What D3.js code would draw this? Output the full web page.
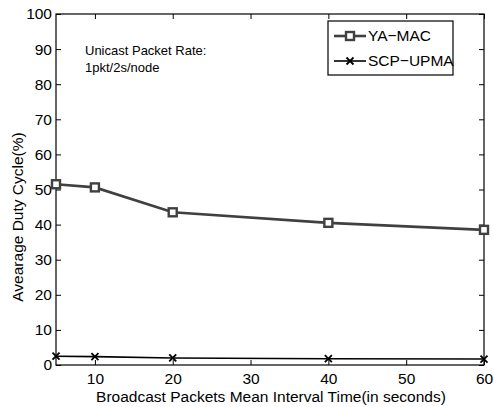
<!DOCTYPE html>
<html>
<head>
<meta charset="utf-8">
<script src="https://cdn.jsdelivr.net/npm/d3@7"></script>
<style>
  body { margin: 0; background: #fff; }
  text { font-family: "Liberation Sans", Arial, sans-serif; }
</style>
</head>
<body>
<svg width="494" height="407"></svg>
<script>
(function() {
  'use strict';

// data
var intervals = [5, 10, 20, 40, 60];
var yaMac = [51.5, 50.6, 43.5, 40.5, 38.5];
var scpUpma = [2.5, 2.4, 2.0, 1.8, 1.7];
var xTicks = [10, 20, 30, 40, 50, 60];
var yTicks = [0, 10, 20, 30, 40, 50, 60, 70, 80, 90, 100];
var seriesNames = ["YA\u2212MAC", "SCP\u2212UPMA"];

var svg = d3.select("svg");
var left = 56, right = 484, top = 14, bottom = 365;

var x = d3.scaleLinear().domain([5, 60]).range([left, right]);
var y = d3.scaleLinear().domain([0, 100]).range([bottom, top]);

// ticks inward on all four sides
svg.append("g").attr("transform", "translate(0," + bottom + ")")
   .call(d3.axisBottom(x).tickValues(xTicks).tickSizeInner(-5).tickSizeOuter(0).tickPadding(8));
svg.append("g").attr("transform", "translate(0," + top + ")")
   .call(d3.axisTop(x).tickValues(xTicks).tickSizeInner(-5).tickSizeOuter(0).tickFormat(""));
svg.append("g").attr("transform", "translate(" + left + ",0)")
   .call(d3.axisLeft(y).tickValues(yTicks).tickSizeInner(-5).tickSizeOuter(0).tickPadding(4));
svg.append("g").attr("transform", "translate(" + right + ",0)")
   .call(d3.axisRight(y).tickValues(yTicks).tickSizeInner(-5).tickSizeOuter(0).tickFormat(""));

svg.selectAll(".domain").remove();
svg.selectAll(".tick line").attr("stroke", "#000");
svg.selectAll(".tick text").attr("font-size", 15.5).attr("fill", "#000")
   .style("font-family", "Liberation Sans, Arial, sans-serif");

svg.append("rect")
   .attr("x", left).attr("y", top)
   .attr("width", right - left).attr("height", bottom - top)
   .attr("fill", "none").attr("stroke", "#000").attr("stroke-width", 1.2);

var line = d3.line()
  .x(function(d) { return x(d[0]); })
  .y(function(d) { return y(d[1]); });

var yaPts = intervals.map(function(d, i) { return [d, yaMac[i]]; });
var scpPts = intervals.map(function(d, i) { return [d, scpUpma[i]]; });

svg.append("path").attr("d", line(scpPts))
   .attr("fill", "none").attr("stroke", "#000").attr("stroke-width", 1.6);
svg.selectAll(".xmark").data(scpPts).enter().append("path")
   .attr("transform", function(d) { return "translate(" + x(d[0]) + "," + y(d[1]) + ")"; })
   .attr("d", "M-3.5,-3.5L3.5,3.5M-3.5,3.5L3.5,-3.5")
   .attr("stroke", "#000").attr("stroke-width", 1.8);

svg.append("path").attr("d", line(yaPts))
   .attr("fill", "none").attr("stroke", "#404040").attr("stroke-width", 2.6);
svg.selectAll(".sq").data(yaPts).enter().append("rect")
   .attr("x", function(d) { return x(d[0]) - 4; })
   .attr("y", function(d) { return y(d[1]) - 4; })
   .attr("width", 8).attr("height", 8)
   .attr("fill", "#fff").attr("stroke", "#404040").attr("stroke-width", 2.4);

// legend
var lg = svg.append("g").attr("transform", "translate(328,21)");
lg.append("rect").attr("width", 125).attr("height", 54)
  .attr("fill", "#fff").attr("stroke", "#000").attr("stroke-width", 1.2);
lg.append("line").attr("x1", 6).attr("x2", 38).attr("y1", 15).attr("y2", 15)
  .attr("stroke", "#404040").attr("stroke-width", 2.6);
lg.append("rect").attr("x", 18).attr("y", 11).attr("width", 8).attr("height", 8)
  .attr("fill", "#fff").attr("stroke", "#404040").attr("stroke-width", 2.4);
lg.append("line").attr("x1", 6).attr("x2", 38).attr("y1", 40).attr("y2", 40)
  .attr("stroke", "#000").attr("stroke-width", 1.6);
lg.append("path").attr("transform", "translate(22,40)")
  .attr("d", "M-3.5,-3.5L3.5,3.5M-3.5,3.5L3.5,-3.5")
  .attr("stroke", "#000").attr("stroke-width", 1.8);
lg.selectAll(".lt").data(seriesNames).enter().append("text")
  .attr("x", 40).attr("y", function(d, i) { return 20 + i * 25; })
  .attr("font-size", 15.5).text(function(d) { return d; });

// annotation
svg.append("text").attr("x", 85).attr("y", 55).attr("font-size", 13)
   .text("Unicast Packet Rate:");
svg.append("text").attr("x", 85).attr("y", 72).attr("font-size", 13)
   .text("1pkt/2s/node");

// axis titles
svg.append("text").attr("x", 271).attr("y", 402)
   .attr("text-anchor", "middle").attr("font-size", 15.5)
   .text("Broadcast Packets Mean Interval Time(in seconds)");
svg.append("text")
   .attr("transform", "translate(23,217) rotate(-90)")
   .attr("text-anchor", "middle").attr("font-size", 15.5)
   .text("Avearage Duty Cycle(%)");
})();
</script>
</body>
</html>
